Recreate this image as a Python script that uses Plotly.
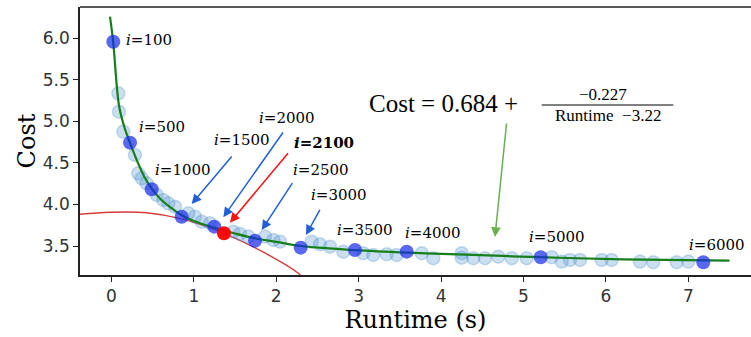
import plotly.graph_objects as go

# ---- data ----
light_runtime = [0.083, 0.091, 0.143, 0.285, 0.325, 0.367, 0.427, 0.549, 0.629, 0.689, 0.771,
                 0.932, 1.013, 1.095, 1.195, 1.478, 1.559, 1.660, 1.863, 1.964, 2.045, 2.430,
                 2.530, 2.652, 2.813, 3.056, 3.177, 3.340, 3.461, 3.765, 3.905, 4.250, 4.250,
                 4.391, 4.533, 4.694, 4.857, 5.039, 5.342, 5.464, 5.564, 5.686, 5.949, 6.070,
                 6.414, 6.575, 6.859, 7.000]
light_cost = [5.338, 5.117, 4.877, 4.596, 4.375, 4.315, 4.255, 4.114, 4.054, 4.014, 3.974,
              3.894, 3.853, 3.793, 3.774, 3.673, 3.645, 3.613, 3.613, 3.573, 3.552, 3.552,
              3.521, 3.492, 3.432, 3.413, 3.392, 3.401, 3.392, 3.413, 3.353, 3.413, 3.360,
              3.353, 3.353, 3.372, 3.353, 3.353, 3.365, 3.312, 3.332, 3.332, 3.332, 3.332,
              3.312, 3.305, 3.305, 3.312]

key_iter = [100, 500, 1000, 1500, 2000, 2100, 2500, 3000, 3500, 4000, 5000, 6000]
key_runtime = [0.022, 0.225, 0.488, 0.852, 1.248, 1.365, 1.742, 2.296, 2.955, 3.583, 5.209, 7.182]
key_cost = [5.959, 4.744, 4.183, 3.853, 3.733, 3.653, 3.564, 3.480, 3.452, 3.432, 3.365, 3.305]
chosen_iter = 2100

fit_runtime = [-0.018, 0.02, 0.09, 0.15, 0.225, 0.3, 0.4, 0.488, 0.6, 0.75, 0.852, 1.0, 1.25,
               1.5, 1.75, 2.0, 2.3, 2.6, 2.95, 3.6, 4.2, 5.2, 6.2, 7.5]
fit_cost = [6.26, 5.96, 5.2, 4.95, 4.74, 4.55, 4.33, 4.19, 4.06, 3.94, 3.87, 3.80, 3.72,
            3.65, 3.59, 3.55, 3.50, 3.475, 3.45, 3.42, 3.40, 3.365, 3.34, 3.324]

tangent_runtime = [-0.382, -0.018, 0.427, 0.852, 1.365, 1.839, 2.267, 2.33]
tangent_cost = [3.882, 3.906, 3.901, 3.826, 3.653, 3.428, 3.172, 3.10]

x_ticks = [0, 1, 2, 3, 4, 5, 6, 7]
y_ticks = [3.5, 4.0, 4.5, 5.0, 5.5, 6.0]

# ---- styling ----
W, H = 751, 337
ML, MR, MT, MB = 80, 0, 7, 62
SERIF = "DejaVu Serif"
EQ_FONT = "Liberation Serif"

# label offsets (pixels, relative to each key point): (dx, dy up)
label_offsets = {100: (10.7, 2), 500: (6.7, 16), 1000: (1.6, 19.3), 1500: (30, 76.7),
                 2000: (42.4, 108.4), 2100: (67.7, 90), 2500: (36, 70.7), 3000: (8.6, 52.7),
                 3500: (-20, 20), 4000: (-3.4, 18.4), 5000: (-14, 20.6), 6000: (-16, 17.3)}
# arrows: iter -> (tip dx, tip dy up, tail ax, tail ay, color)
BLUE = "#1f5fd8"
arrow_specs = {1500: (10, 12.7, 41.3, -49, BLUE), 2000: (9, 9.4, 60.7, -86.3, BLUE),
               2100: (6, 10.6, 59.3, -71, "#ff1010"), 2500: (6.7, 10.7, 31.6, -48.3, BLUE),
               3000: (5.3, 12.7, 14.7, -26.7, BLUE)}

fig = go.Figure()

fig.add_trace(go.Scatter(x=tangent_runtime, y=tangent_cost, mode="lines",
                         line=dict(color="#d83a3a", width=1.4, shape="spline"),
                         hoverinfo="skip", showlegend=False))
fig.add_trace(go.Scatter(x=light_runtime, y=light_cost, mode="markers",
                         marker=dict(size=13, color="rgba(70,140,200,0.28)",
                                     line=dict(width=1.5, color="rgba(70,140,200,0.28)")),
                         showlegend=False))
fig.add_trace(go.Scatter(x=fit_runtime, y=fit_cost, mode="lines",
                         line=dict(color="#15801a", width=2.2, shape="spline"),
                         showlegend=False))
key_colors = ["rgba(255,0,0,0.95)" if it == chosen_iter else "rgba(20,40,235,0.7)" for it in key_iter]
fig.add_trace(go.Scatter(x=key_runtime, y=key_cost, mode="markers",
                         marker=dict(size=14, color=key_colors, line=dict(width=0)),
                         showlegend=False))

annotations = []
for it, xr, yc in zip(key_iter, key_runtime, key_cost):
    dx, dy = label_offsets[it]
    txt = f"<i>i</i>={it}"
    if it == chosen_iter:
        txt = f"<b><i>i</i>={it}</b>"
    annotations.append(dict(x=xr, y=yc, xref="x", yref="y", text=txt, showarrow=False,
                            xanchor="left", yanchor="middle", xshift=dx, yshift=dy,
                            font=dict(family=SERIF, size=15, color="black")))
    if it in arrow_specs:
        tdx, tdy, ax, ay, col = arrow_specs[it]
        annotations.append(dict(x=xr, y=yc, xref="x", yref="y", text="", showarrow=True,
                                xshift=tdx, yshift=tdy, ax=ax, ay=ay, arrowhead=2,
                                arrowsize=1.3, arrowwidth=1.5, arrowcolor=col, standoff=0))

# green arrow from equation to fit curve
annotations.append(dict(x=4.654, y=3.609, xref="x", yref="y", text="", showarrow=True,
                        ax=4.796, ay=4.993, axref="x", ayref="y", arrowhead=2, arrowsize=1.3,
                        arrowwidth=1.5, arrowcolor="#6ab04c", standoff=0))

pw, ph = W - ML - MR, H - MT - MB
def px(xp):
    return (xp - ML) / pw
def py(yp):
    return (H - MB - yp) / ph

annotations.append(dict(x=px(367), y=py(103), xref="paper", yref="paper",
                        text="Cost = 0.684 +", showarrow=False, xanchor="left", yanchor="middle",
                        font=dict(family=EQ_FONT, size=25, color="black")))
annotations.append(dict(x=px(603), y=py(94.5), xref="paper", yref="paper",
                        text="−0.227", showarrow=False, xanchor="center", yanchor="middle",
                        borderpad=0, font=dict(family=EQ_FONT, size=17, color="black")))
annotations.append(dict(x=px(607.5), y=py(115), xref="paper", yref="paper",
                        text="Runtime  −3.22", showarrow=False, xanchor="center", yanchor="middle",
                        borderpad=0, font=dict(family=EQ_FONT, size=17, color="black")))

shapes = [
    dict(type="line", xref="paper", yref="paper", x0=px(541.7), x1=px(673.3), y0=py(105), y1=py(105),
         line=dict(color="black", width=1)),
    dict(type="line", xref="paper", yref="paper", x0=0, x1=1, y0=1, y1=1,
         line=dict(color="#222", width=1.5)),
]

fig.update_layout(
    width=W, height=H, margin=dict(l=ML, r=MR, t=MT, b=MB),
    plot_bgcolor="white", paper_bgcolor="white",
    annotations=annotations, shapes=shapes, showlegend=False,
    xaxis=dict(range=[-0.382, 7.761], tickvals=x_ticks, ticks="outside", ticklen=5, tickwidth=1,
               tickcolor="#222", showline=True, linecolor="#222", linewidth=1.5, showgrid=False,
               zeroline=False, tickfont=dict(family="DejaVu Sans", size=17, color="#333"),
               title=dict(text="Runtime (s)", font=dict(family=SERIF, size=24, color="black"),
                          standoff=3)),
    yaxis=dict(range=[3.151, 6.377], tickvals=y_ticks, tickformat=".1f", ticks="outside",
               ticklen=5, tickwidth=1, tickcolor="#222", showline=True, linecolor="#222",
               linewidth=1.5, showgrid=False, zeroline=False,
               tickfont=dict(family="DejaVu Sans", size=17, color="#333"),
               title=dict(text="Cost", font=dict(family=SERIF, size=24, color="black"),
                          standoff=0)),
)

fig.write_html("out.html")
